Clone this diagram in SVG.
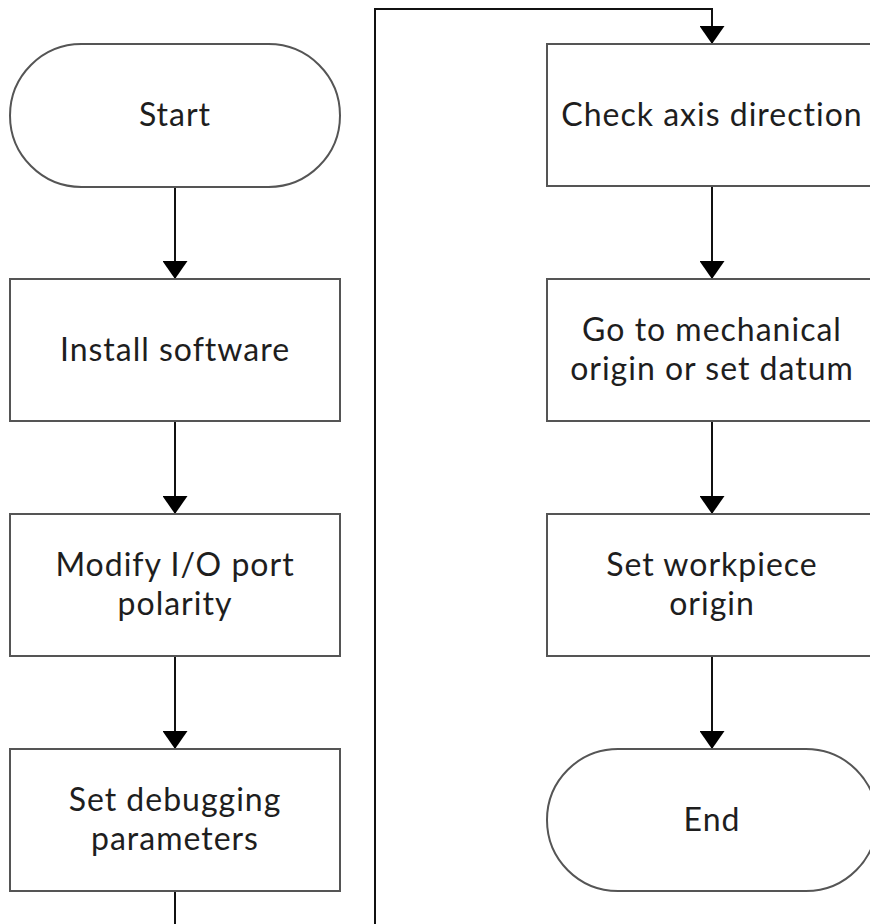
<svg xmlns="http://www.w3.org/2000/svg" width="870" height="924" viewBox="0 0 870 924">
<defs>
<style>
.n{fill:#fff;stroke:#555;stroke-width:2}
.t{font-family:Lato,"Noto Sans",sans-serif;font-size:32px;letter-spacing:1px;fill:#1e1e1e;text-anchor:middle}
.c{fill:none;stroke:#111;stroke-width:2}
</style>
<marker id="ah" viewBox="0 0 18 25" refX="18" refY="12.5" markerWidth="18" markerHeight="25" markerUnits="userSpaceOnUse" orient="auto">
<path d="M0,0 L18,12.5 L0,25 Z" fill="#000"/>
</marker>
</defs>
<rect width="870" height="924" fill="#fff"/>
<g id="connectors">
<path class="c" d="M175,187 V279" marker-end="url(#ah)"/>
<path class="c" d="M175,421 V514" marker-end="url(#ah)"/>
<path class="c" d="M175,656 V749" marker-end="url(#ah)"/>
<path class="c" d="M175,891 V924"/>
<path class="c" d="M375,924 V9 H712 V44" marker-end="url(#ah)"/>
<path class="c" d="M712,186 V279" marker-end="url(#ah)"/>
<path class="c" d="M712,421 V514" marker-end="url(#ah)"/>
<path class="c" d="M712,656 V749" marker-end="url(#ah)"/>
</g>
<g id="start">
<rect class="n" x="10" y="44" width="330" height="143" rx="71.5" ry="71.5"/>
<text class="t" x="175" y="126">Start</text>
</g>
<g id="install">
<rect class="n" x="10" y="279" width="330" height="142"/>
<text class="t" x="175" y="361">Install software</text>
</g>
<g id="modify">
<rect class="n" x="10" y="514" width="330" height="142"/>
<text class="t" x="175" y="576">Modify I/O port<tspan x="175" dy="39">polarity</tspan></text>
</g>
<g id="debug">
<rect class="n" x="10" y="749" width="330" height="142"/>
<text class="t" x="175" y="811">Set debugging<tspan x="175" dy="39">parameters</tspan></text>
</g>
<g id="check">
<rect class="n" x="547" y="44" width="330" height="142"/>
<text class="t" x="712" y="126">Check axis direction</text>
</g>
<g id="origin">
<rect class="n" x="547" y="279" width="330" height="142"/>
<text class="t" x="712" y="341">Go to mechanical<tspan x="712" dy="39">origin or set datum</tspan></text>
</g>
<g id="workpiece">
<rect class="n" x="547" y="514" width="330" height="142"/>
<text class="t" x="712" y="576">Set workpiece<tspan x="712" dy="39">origin</tspan></text>
</g>
<g id="end">
<rect class="n" x="547" y="749" width="330" height="142" rx="71" ry="71"/>
<text class="t" x="712" y="831">End</text>
</g>
</svg>
